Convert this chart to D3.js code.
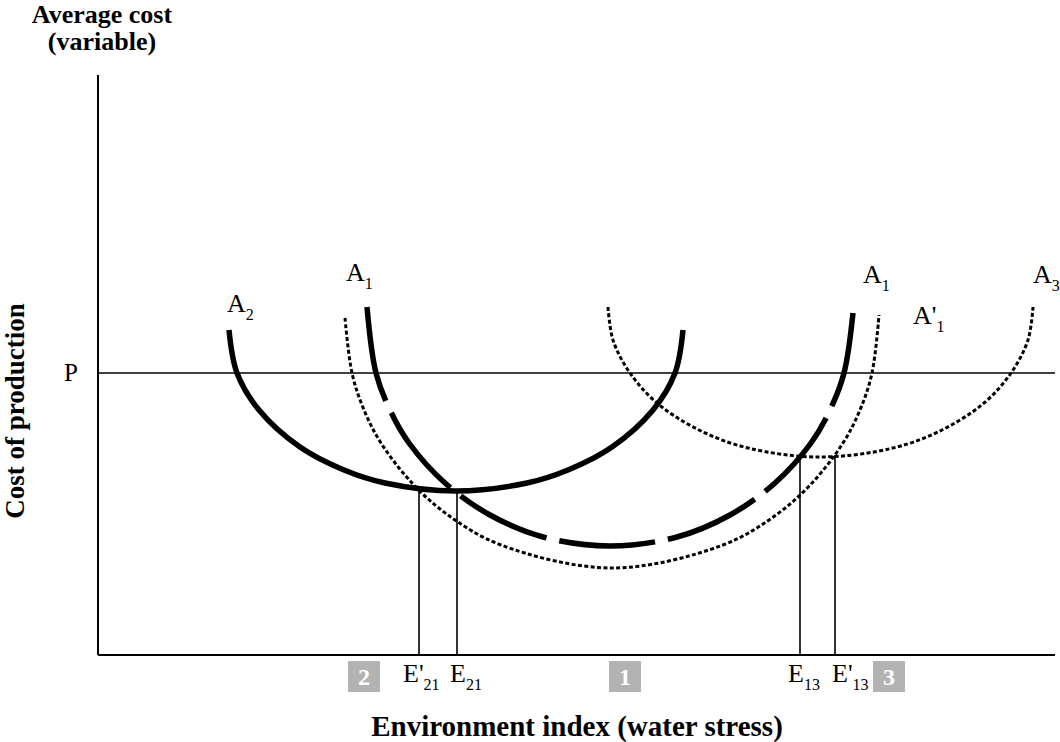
<!DOCTYPE html>
<html>
<head>
<meta charset="utf-8">
<script src="https://cdn.jsdelivr.net/npm/d3@7"></script>
<style>
  body { margin: 0; background: #fff; }
  text { font-family: "Liberation Serif", "Times New Roman", serif; fill: #000; }
</style>
</head>
<body>
<div id="chart"></div>
<script>
// Curves (arbitrary units: x = environment index, y = cost)
const curveA2 = [[131,325],[139,282],[161,245],[202,208],[246,185],[287,172],[358,164],
  [429,172],[470,185],[514,208],[555,245],[577,282],[585,325]];
const curveA1 = [[269,348],[278,282],[292,245],[311,212],[347,172],[392,140],[445,118],
  [512,109],[579,118],[632,140],[677,172],[713,212],[732,245],[746,282],[755,342]];
const curveA1p = [[247,337],[254,282],[266,245],[283,212],[314,172],[350,140],[403,110],
  [514,87],[625,110],[678,140],[714,172],[745,212],[762,245],[774,282],[781,340]];
const curveA3 = [[510,348],[515,315],[532,282],[559,252],[601,225],[650,207],[722,198],
  [795,207],[844,225],[886,252],[913,282],[930,315],[935,348]];

const priceP = 282;

// equilibrium points dropped to the axis
const dropLines = [
  { x: 321, y: 166, name: 'E', prime: "'", sub: '21', tx: 305 },
  { x: 359, y: 164, name: 'E', prime: '',  sub: '21', tx: 352 },
  { x: 702, y: 200, name: 'E', prime: '',  sub: '13', tx: 690 },
  { x: 737, y: 200, name: 'E', prime: "'", sub: '13', tx: 734 }
];

// zone boxes along the x axis
const zones = [
  { label: '2', x: 266 },
  { label: '1', x: 527 },
  { label: '3', x: 791 }
];

// curve name labels
const curveLabels = [
  { name: 'A', prime: '',  sub: '2', x: 129, y: 343 },
  { name: 'A', prime: '',  sub: '1', x: 248, y: 374 },
  { name: 'A', prime: '',  sub: '1', x: 765, y: 372 },
  { name: 'A', prime: "'", sub: '1', x: 815, y: 331 },
  { name: 'A', prime: '',  sub: '3', x: 935, y: 372 }
];

const width = 1060, height = 742;

const x = d3.scaleLinear().domain([0, 960]).range([98, 1058]);
const y = d3.scaleLinear().domain([0, 580]).range([655, 75]);

const svg = d3.select('#chart').append('svg')
  .attr('width', width)
  .attr('height', height);

const line = d3.line()
  .x(d => x(d[0]))
  .y(d => y(d[1]))
  .curve(d3.curveCatmullRom.alpha(0.5));

// axes (no ticks)
svg.append('line')
  .attr('x1', x(0)).attr('x2', x(0))
  .attr('y1', y(580)).attr('y2', y(0))
  .attr('stroke', '#000').attr('stroke-width', 2);
svg.append('line')
  .attr('x1', x(0)).attr('x2', x(957))
  .attr('y1', y(0)).attr('y2', y(0))
  .attr('stroke', '#000').attr('stroke-width', 2);

// price line
svg.append('line')
  .attr('x1', x(0)).attr('x2', x(957))
  .attr('y1', y(priceP)).attr('y2', y(priceP))
  .attr('stroke', '#000').attr('stroke-width', 1.5);

svg.append('text')
  .attr('x', 64).attr('y', y(priceP) + 8)
  .style('font-size', '25px')
  .text('P');

// dotted curves
[curveA1p, curveA3].forEach(function(c) {
  svg.append('path')
    .attr('d', line(c))
    .attr('fill', 'none')
    .attr('stroke', '#000')
    .attr('stroke-width', 3)
    .attr('stroke-dasharray', '4,2.4');
});

// A2 solid
svg.append('path')
  .attr('d', line(curveA2))
  .attr('fill', 'none')
  .attr('stroke', '#000')
  .attr('stroke-width', 5.5);

// A1 long dashes: 7 dashes, 6 short gaps
let a1 = svg.append('path')
  .attr('d', line(curveA1))
  .attr('fill', 'none')
  .attr('stroke', '#000')
  .attr('stroke-width', 5.5);
let len = a1.node().getTotalLength();
let gap = 13;
let dash = (len - 6 * gap) / 7;
a1.attr('stroke-dasharray', dash + ',' + gap);

// vertical drop lines and their labels
dropLines.forEach(function(d) {
  svg.append('line')
    .attr('x1', x(d.x)).attr('x2', x(d.x))
    .attr('y1', y(d.y)).attr('y2', y(0))
    .attr('stroke', '#000').attr('stroke-width', 1.6);
  let t = svg.append('text')
    .attr('x', x(d.tx)).attr('y', 682)
    .style('font-size', '26px');
  t.append('tspan').text(d.name + d.prime);
  t.append('tspan').attr('dy', 8).style('font-size', '16px').text(d.sub);
});

// zone boxes
zones.forEach(function(z) {
  svg.append('rect')
    .attr('x', x(z.x) - 16).attr('y', 661)
    .attr('width', 32).attr('height', 31)
    .attr('fill', '#b3b3b3');
  svg.append('text')
    .attr('x', x(z.x)).attr('y', 685)
    .attr('text-anchor', 'middle')
    .style('font-size', '24px')
    .style('font-weight', 'bold')
    .style('fill', '#fff')
    .text(z.label);
});

// curve labels
curveLabels.forEach(function(d) {
  let t = svg.append('text')
    .attr('x', x(d.x)).attr('y', y(d.y))
    .style('font-size', '26px');
  t.append('tspan').text(d.name + d.prime);
  t.append('tspan').attr('dy', 8).style('font-size', '16px').text(d.sub);
});

// axis titles
let title = svg.append('text')
  .attr('text-anchor', 'middle')
  .style('font-size', '26px')
  .style('font-weight', 'bold');
title.append('tspan').attr('x', 102).attr('y', 23).text('Average cost');
title.append('tspan').attr('x', 102).attr('y', 50).text('(variable)');

svg.append('text')
  .attr('transform', 'translate(24,411) rotate(-90)')
  .attr('text-anchor', 'middle')
  .style('font-size', '27px')
  .style('font-weight', 'bold')
  .text('Cost of production');

svg.append('text')
  .attr('x', 577).attr('y', 736)
  .attr('text-anchor', 'middle')
  .style('font-size', '29px')
  .style('font-weight', 'bold')
  .text('Environment index (water stress)');
</script>
</body>
</html>
